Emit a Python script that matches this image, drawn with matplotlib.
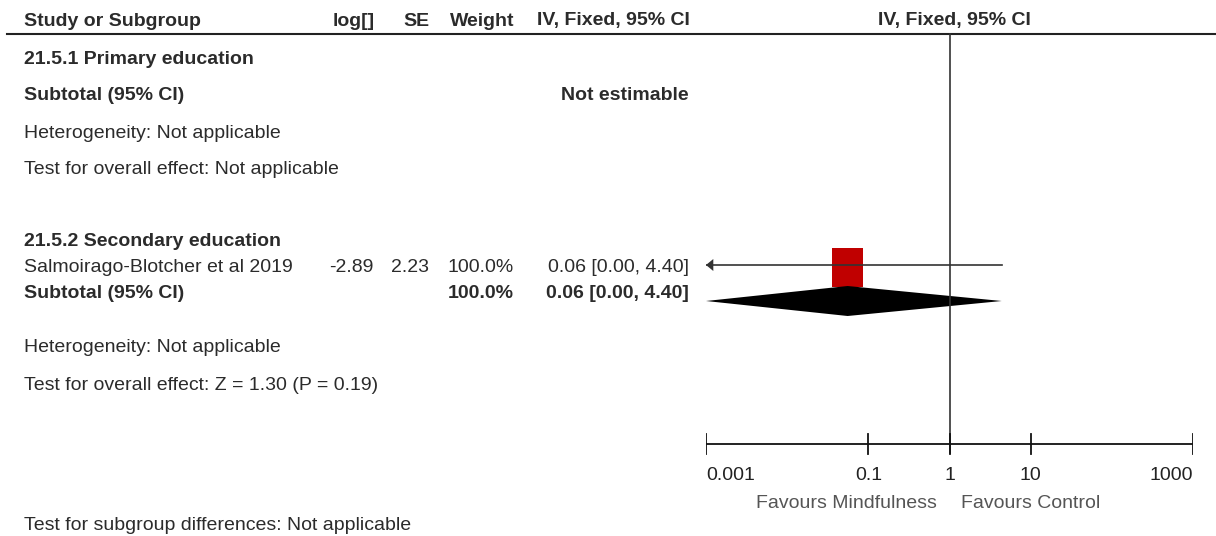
import numpy as np
import matplotlib.pyplot as plt
from matplotlib.patches import Rectangle, Polygon

plt.rcParams['font.family'] = ['Liberation Sans', 'DejaVu Sans']

# table columns
headers = ["Study or Subgroup", "log[]", "SE", "Weight", "IV, Fixed, 95% CI"]
study = "Salmoirago-Blotcher et al 2019"
log_est = -2.89
se = 2.23
weight = "100.0%"
ci_text = "0.06 [0.00, 4.40]"
axis_ticks = [0.001, 0.1, 1, 10, 1000]
tick_labels = ["0.001", "0.1", "1", "10", "1000"]

est = np.exp(log_est)
lo = np.exp(log_est - 1.96 * se)
hi = np.exp(log_est + 1.96 * se)

W, H = 1216, 536
fig = plt.figure(figsize=(W / 100, H / 100), dpi=100)
ax = fig.add_axes([0, 0, 1, 1])
ax.set_xlim(0, W)
ax.set_ylim(H, 0)
ax.axis("off")

txt = "#2b2b2b"
fs = 14
dy = 2  # small nudge so the cap height sits like the reference

def t(x, y, s, ha="left", bold=False, color=txt):
    ax.text(x, y + dy, s, ha=ha, va="center", fontsize=fs, color=color,
            fontweight="bold" if bold else "normal")

# header
t(24, 19, headers[0], bold=True)
t(375, 19, headers[1], ha="right", bold=True)
t(429, 19, headers[2], ha="right", bold=True)
t(514, 19, headers[3], ha="right", bold=True)
t(690, 19, headers[4], ha="right", bold=True)
t(954, 19, headers[4], ha="center", bold=True)
ax.plot([7, W], [34, 34], color="#222222", lw=1.5)

# subgroup 1
t(24, 57, "21.5.1 Primary education", bold=True)
t(24, 94, "Subtotal (95% CI)", bold=True)
t(689, 94, "Not estimable", ha="right", bold=True)
t(24, 131, "Heterogeneity: Not applicable")
t(24, 168, "Test for overall effect: Not applicable")

# subgroup 2
t(24, 240, "21.5.2 Secondary education", bold=True)
t(24, 265, study)
t(374, 265, f"{log_est:.2f}", ha="right")
t(429, 265, f"{se:.2f}", ha="right")
t(514, 265, weight, ha="right")
t(689, 265, ci_text, ha="right")
t(24, 291, "Subtotal (95% CI)", bold=True)
t(514, 291, weight, ha="right", bold=True)
t(689, 291, ci_text, ha="right", bold=True)
t(24, 346, "Heterogeneity: Not applicable")
t(24, 383, "Test for overall effect: Z = 1.30 (P = 0.19)")

t(24, 523, "Test for subgroup differences: Not applicable")

# forest panel (log x, pixel y)
fx = fig.add_axes([706 / W, 0, (1193 - 706) / W, 1])
fx.set_xscale("log")
fx.set_xlim(axis_ticks[0], axis_ticks[-1])
fx.set_ylim(H, 0)
fx.axis("off")

line_c = "#333333"
fx.plot([1, 1], [34, 453], color=line_c, lw=1.2)

# confidence interval with arrow (lower bound off scale)
xmin = axis_ticks[0]
fx.plot([max(lo, xmin), hi], [265, 265], color=line_c, lw=1.2)
if lo < xmin:
    fx.add_patch(Polygon([[xmin, 265], [xmin * 10 ** 0.09, 259],
                          [xmin * 10 ** 0.09, 271]], closed=True,
                         color=line_c, lw=0))

# study square
half = 0.19
fx.add_patch(Rectangle((est * 10 ** -half, 248), est * 10 ** half - est * 10 ** -half,
                       39, color="#c00000", lw=0))

# subtotal diamond
fx.add_patch(Polygon([[max(lo, xmin), 301], [est, 286], [hi, 301], [est, 316]],
                     closed=True, color="black", lw=0))

# axis
fx.plot([axis_ticks[0], axis_ticks[-1]], [444, 444], color="#111111", lw=1.3)
for i, (v, lab) in enumerate(zip(axis_ticks, tick_labels)):
    fx.plot([v, v], [434, 454], color="#111111", lw=1.3)
    ha = "left" if i == 0 else ("right" if i == len(axis_ticks) - 1 else "center")
    fx.text(v, 476, lab, ha=ha, va="center", fontsize=fs, color="#222222")

fx.text(0.69, 504, "Favours Mindfulness", ha="right", va="center",
        fontsize=fs, color="#555555")
fx.text(1.37, 504, "Favours Control", ha="left", va="center",
        fontsize=fs, color="#555555")

fig.savefig("out.png", dpi=100)
